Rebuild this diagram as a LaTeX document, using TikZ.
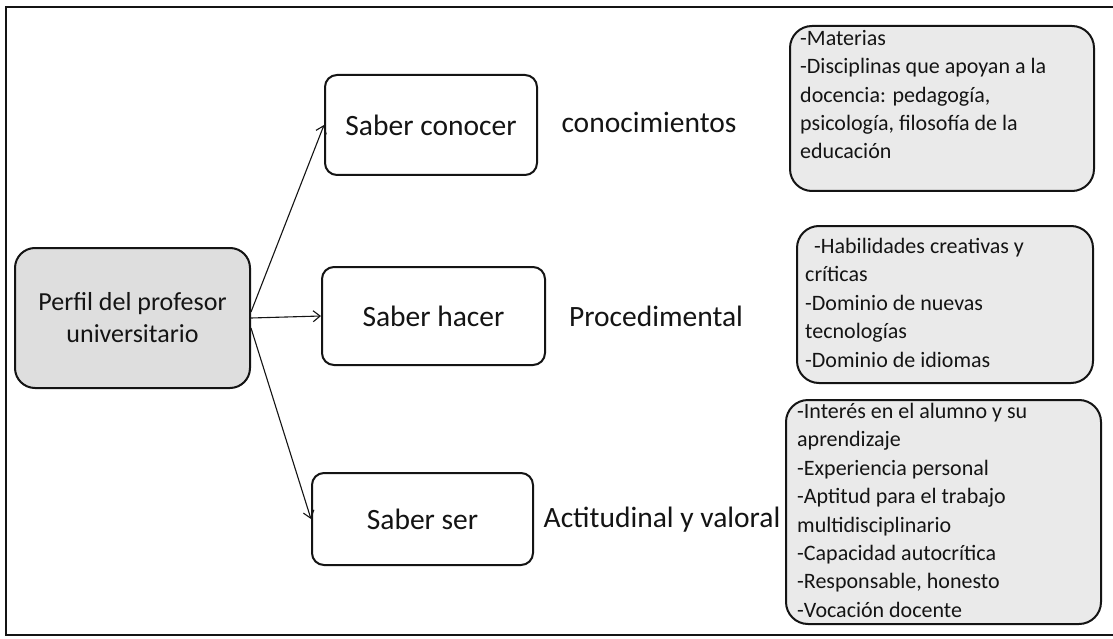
\documentclass[tikz,border=0pt]{standalone}
\usepackage{fontspec}
\setmainfont{Carlito}
\usetikzlibrary{arrows.meta,calc}
\definecolor{perf}{RGB}{222,222,222}
\definecolor{lg}{RGB}{234,234,234}
\definecolor{ink}{RGB}{20,20,20}
\begin{document}
\begin{tikzpicture}[x=1pt,y=-1pt,
  box/.style={draw=ink, line width=2pt, rounded corners=12pt, inner sep=0pt},
  big/.style={font=\fontsize{29.5}{35}\selectfont, text=ink},
  list/.style={font=\fontsize{22}{28.4}\selectfont, text=ink, align=left, inner sep=0pt, anchor=north west},
  arr/.style={draw=ink, -{Straight Barb[length=7pt,width=11pt]}, line width=1.1pt}]
\useasboundingbox (0,0) rectangle (1113,639);
\fill[white] (0,0) rectangle (1113,639);
% outer frame
\coordinate (f1) at (1113,7);
\coordinate (f2) at (6,7);
\coordinate (f3) at (6,635);
\coordinate (f4) at (1113,635);
\draw[ink, line width=2.4pt] (f1) -- (f2) -- (f3) -- (f4);
% central nodes
\node[box, fill=perf, rounded corners=20pt, minimum width=235pt, minimum height=140pt,
      align=center, font=\fontsize{26}{32}\selectfont, text=ink] (perfil) at (132.5,318)
      {Perfil del profesor\\universitario};
\node[box, minimum width=212pt, minimum height=100pt, big] (conocer) at (431,125) {Saber conocer};
\node[box, minimum width=223pt, minimum height=98pt, big] (hacer) at (433.5,316) {Saber hacer};
\node[box, minimum width=221pt, minimum height=92pt, big] (ser) at (422.5,519) {Saber ser};
% labels
\node[big] (l1) at (649,122) {conocimientos};
\node[big] (l2) at (656,316) {Procedimental};
\node[big] (l3) at (662,520) {Actitudinal y valoral};
% right boxes
\node[box, fill=lg, rounded corners=22pt, minimum width=304pt, minimum height=165pt] (r1) at (942,108.5) {};
\node[box, fill=lg, rounded corners=22pt, minimum width=296pt, minimum height=157pt] (r2) at (945,304.5) {};
\node[box, fill=lg, rounded corners=22pt, minimum width=315pt, minimum height=224pt] (r3) at (943.5,512) {};
\node[list] (t1) at ($(r1.north west)+(11,5)$)
  {-Materias\\-Disciplinas que apoyan a la\\docencia: pedagogía,\\psicología, filosofía de la\\educación};
\node[list] (t2) at ($(r2.north west)+(9,13)$)
  {\hspace{9pt}-Habilidades creativas y\\críticas\\-Dominio de nuevas\\tecnologías\\-Dominio de idiomas};
\node[list] (t3) at ($(r3.north west)+(12,4)$)
  {-Interés en el alumno y su\\aprendizaje\\-Experiencia personal\\-Aptitud para el trabajo\\multidisciplinario\\-Capacidad autocrítica\\-Responsable, honesto\\-Vocación docente};
% connectors
\draw[arr] ($(perfil.east)+(0,-6)$) -- (conocer.west);
\draw[arr] (perfil.east) -- (hacer.west);
\draw[arr] ($(perfil.east)+(0,10)$) -- (ser.west);
\end{tikzpicture}
\end{document}
